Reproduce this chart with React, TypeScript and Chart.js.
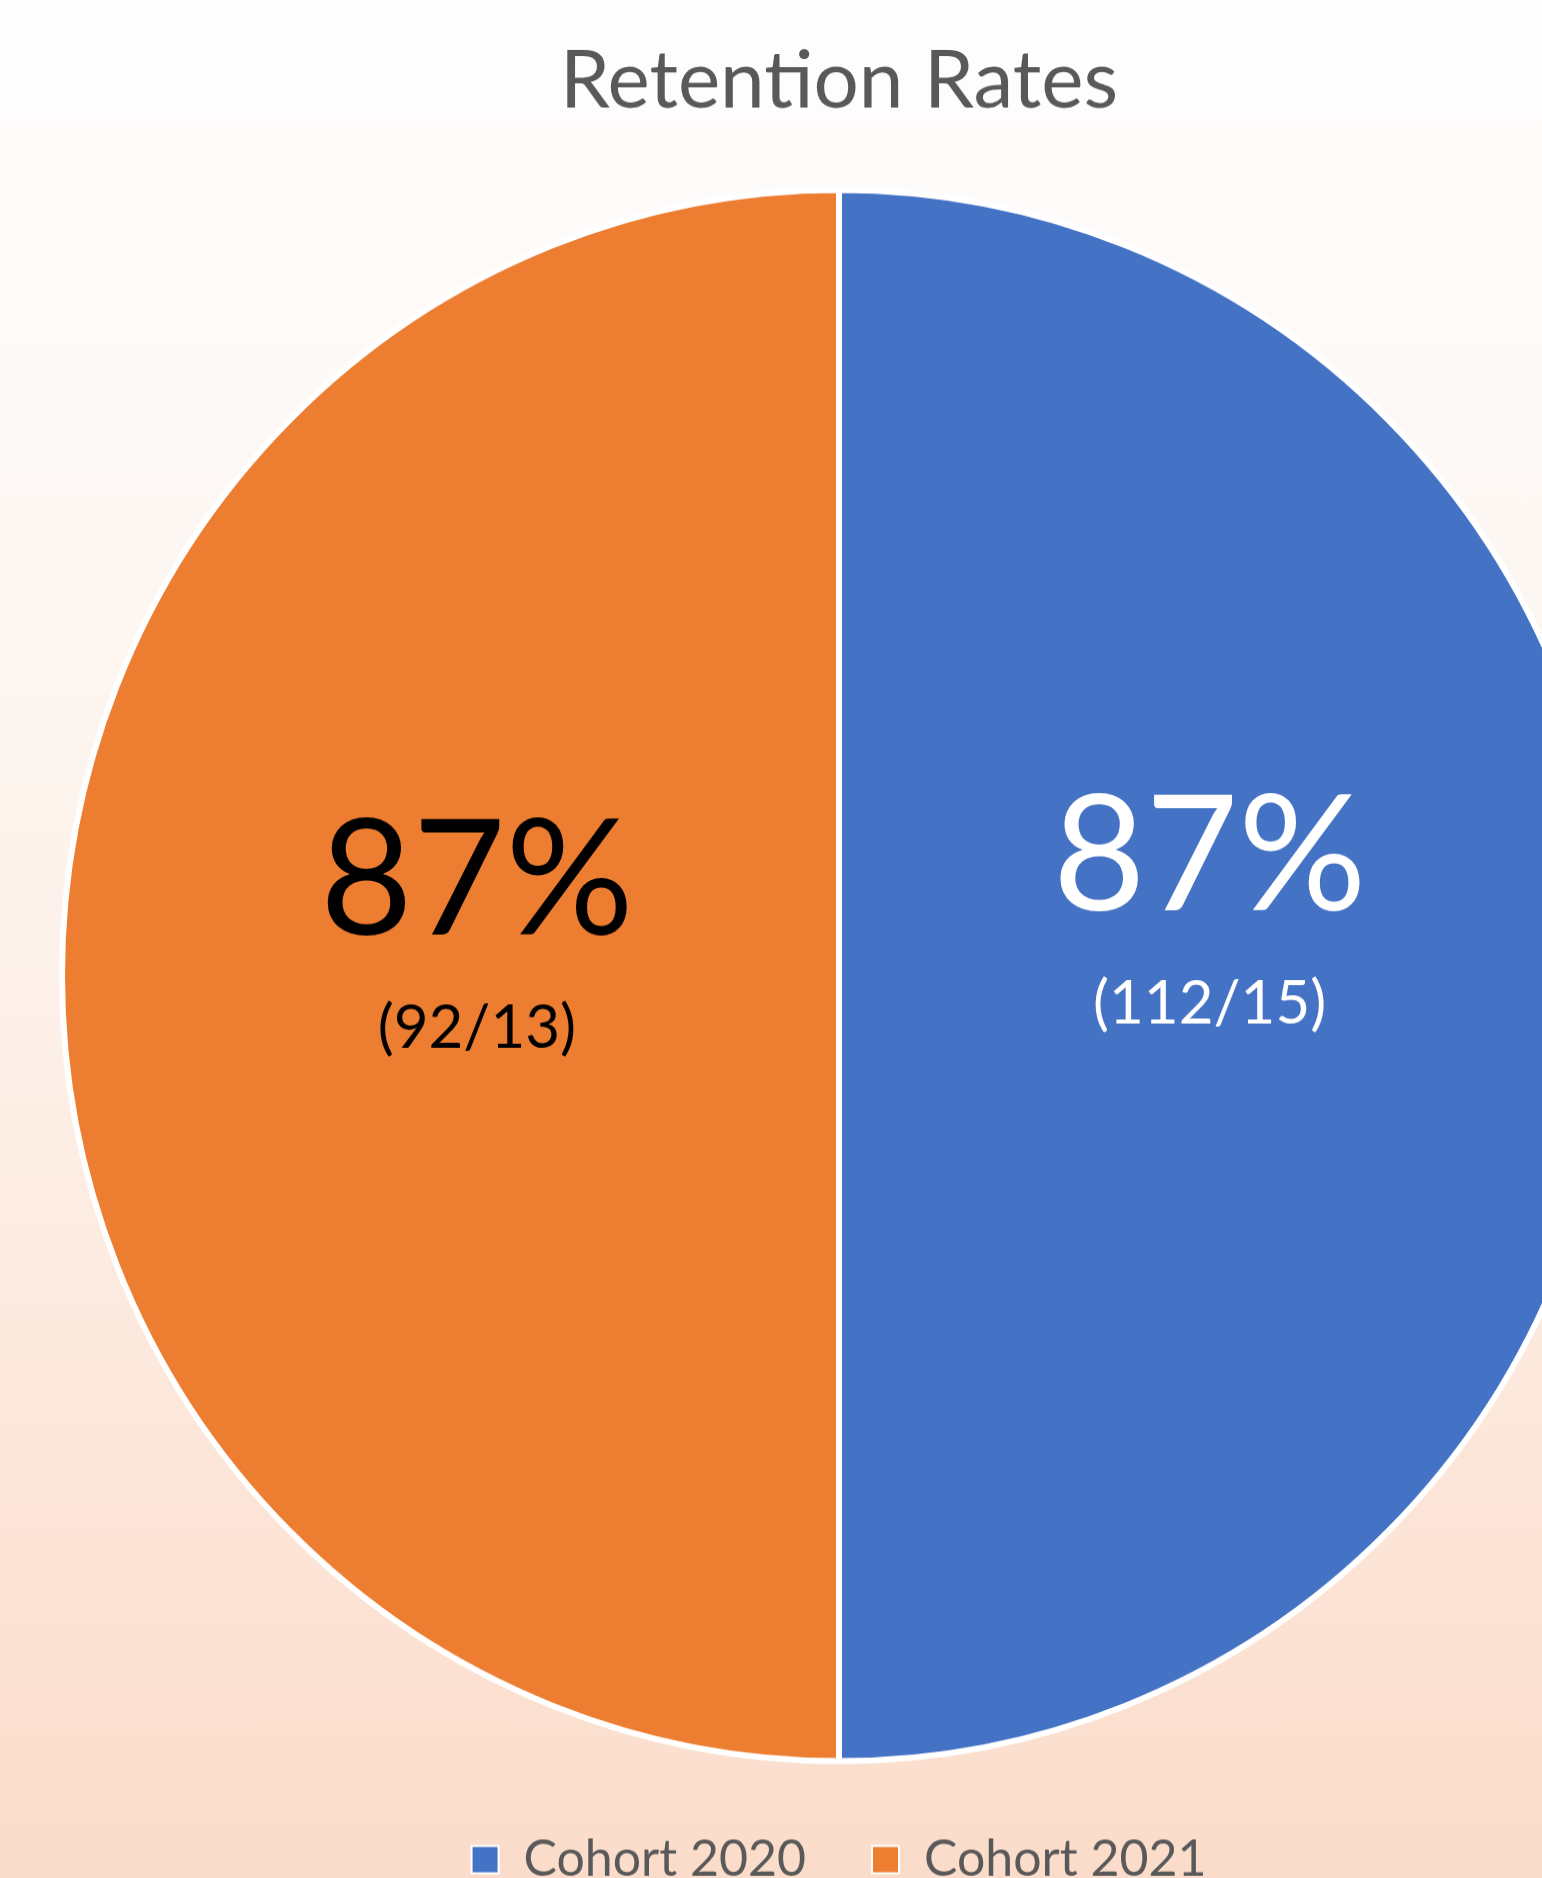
import React, { useEffect, useRef } from "react";
import { Chart, registerables } from "chart.js";

Chart.register(...registerables);

// ---- data ----
const cohorts = ["Cohort 2020", "Cohort 2021"];
const retentionRates = [87, 87];
const retainedCounts = [112, 92];
const otherCounts = [15, 13];
const chartTitle = "Retention Rates";

// ---- style ----
const sliceColors = ["#4472C4", "#ED7D31"];
const labelColors = ["#FFFFFF", "#000000"];
const FONT = "Lato, 'Open Sans', sans-serif";
const labelLayout = [
  { radial: 0.477, dy: -116 },
  { radial: 0.466, dy: -92 },
];

const sliceLabelPlugin = {
  id: "sliceLabels",
  afterDatasetsDraw(chart: any) {
    const meta = chart.getDatasetMeta(0);
    const ctx = chart.ctx;
    meta.data.forEach((arc: any, i: number) => {
      const { x, y, startAngle, endAngle, outerRadius } = arc.getProps(
        ["x", "y", "startAngle", "endAngle", "outerRadius"],
        true
      );
      const mid = (startAngle + endAngle) / 2;
      const lay = labelLayout[i];
      const px = x + Math.cos(mid) * outerRadius * lay.radial;
      const py = y + lay.dy;
      ctx.save();
      ctx.fillStyle = labelColors[i];
      ctx.textAlign = "center";
      ctx.textBaseline = "middle";
      ctx.font = `160px ${FONT}`;
      ctx.fillText(`${retentionRates[i]}%`, px, py);
      ctx.font = `60px ${FONT}`;
      ctx.fillText(`(${retainedCounts[i]}/${otherCounts[i]})`, px, py + 144);
      ctx.restore();
    });
  },
};

export default function App() {
  const canvasRef = useRef<HTMLCanvasElement | null>(null);

  useEffect(() => {
    if (!canvasRef.current) return;
    const baseGen = (Chart as any).overrides.doughnut.plugins.legend.labels.generateLabels;
    const chart = new Chart(canvasRef.current, {
      type: "pie",
      data: {
        labels: cohorts,
        datasets: [
          {
            data: retentionRates,
            backgroundColor: sliceColors,
            borderColor: "#FFFFFF",
            borderWidth: 6,
          },
        ],
      },
      options: {
        responsive: false,
        animation: false,
        events: [],
        radius: 777,
        layout: { padding: 0 },
        plugins: {
          title: {
            display: true,
            text: chartTitle,
            color: "#595959",
            font: { family: FONT, size: 80, weight: "normal" },
            padding: { top: 43, bottom: 53 },
          },
          legend: {
            display: true,
            position: "bottom",
            labels: {
              color: "#595959",
              font: { family: FONT, size: 50 },
              boxWidth: 27,
              boxHeight: 27,
              padding: 66,
              generateLabels: (c: any) =>
                baseGen(c).map((it: any) => ({ ...it, lineWidth: 2, strokeStyle: "#FFFFFF" })),
            },
          },
          tooltip: { enabled: false },
        },
      } as any,
      plugins: [sliceLabelPlugin],
    });
    return () => chart.destroy();
  }, []);

  return (
    <div
      style={{
        position: "absolute",
        left: 0,
        top: 0,
        width: 1542,
        height: 1878,
        overflow: "hidden",
        background:
          "linear-gradient(to bottom, #fefefe 0%, #fdf6f1 35%, #fdf0e8 55%, #fce5d8 80%, #fbdcca 100%)",
      }}
    >
      <canvas
        ref={canvasRef}
        width={1678}
        height={1885}
        style={{
          position: "absolute",
          left: 0,
          top: 0,
          width: 1678,
          height: 1885,
          transform: "scaleY(1.011)",
          transformOrigin: "0px 975.5px",
        }}
      />
    </div>
  );
}
